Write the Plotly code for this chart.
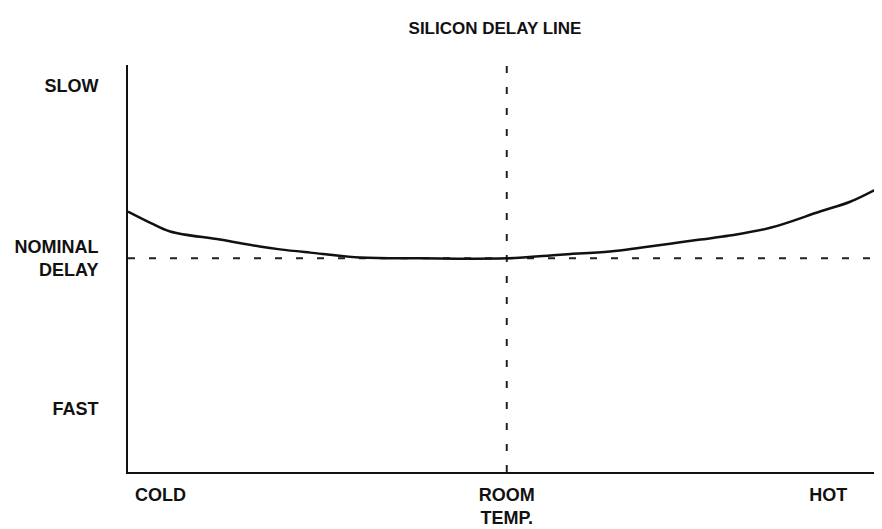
import plotly.graph_objects as go

# Data (normalized units: temperature 0-100, delay 0-100)
temp = [0, 2.9, 5.6, 12.2, 17.5, 20.2, 24.2, 30.8, 38.8, 50.3, 57.4, 64.0, 68.0, 72.0, 76.0, 79.9, 85.3, 91.9, 95.9, 100]
delay = [64.0, 61.3, 59.1, 57.1, 55.4, 54.7, 53.9, 52.7, 52.5, 52.5, 53.4, 54.2, 55.1, 56.1, 57.1, 58.1, 60.0, 64.0, 66.4, 70.1]

nominal_delay = 52.5
room_temp = 50.3

x_tick_vals = [4.3, 50.3, 93]
x_tick_text = ["COLD", "ROOM<br>TEMP.", "HOT"]
y_tick_vals = [95, 52.5, 15.5]
y_tick_text = ["SLOW", "NOMINAL<br>DELAY", "FAST"]

FONT = "Liberation Sans, Arial, sans-serif"

fig = go.Figure()

# nominal delay dashed line
fig.add_trace(go.Scatter(
    x=[0, 100], y=[nominal_delay, nominal_delay], mode="lines",
    line=dict(color="#222222", width=2, dash="7px,14px"),
    showlegend=False, hoverinfo="skip"))

# room temperature dashed line
fig.add_trace(go.Scatter(
    x=[room_temp, room_temp], y=[0, 100], mode="lines",
    line=dict(color="#222222", width=2, dash="7px,14px"),
    showlegend=False, hoverinfo="skip"))

# delay curve
fig.add_trace(go.Scatter(
    x=temp, y=delay, mode="lines",
    line=dict(color="#111111", width=2.5, shape="spline", smoothing=1.0),
    showlegend=False))

# page body has an 8px default margin, so the figure is sized to fit the window
fig.update_layout(
    width=874, height=521,
    margin=dict(l=120, r=1, t=57, b=48),
    paper_bgcolor="white", plot_bgcolor="white",
    title=dict(text="SILICON DELAY LINE", x=487 / 874, xref="container", xanchor="center",
               y=1 - 20 / 521, yref="container", yanchor="middle",
               font=dict(family=FONT, size=17, color="#111111", weight="bold")),
    font=dict(family=FONT, color="#111111"),
)

fig.update_xaxes(
    range=[0, 100], showgrid=False, zeroline=False,
    showline=True, linecolor="#111111", linewidth=2,
    tickmode="array", tickvals=x_tick_vals, ticktext=x_tick_text,
    ticks="", ticklabelstandoff=5,
    tickfont=dict(family=FONT, size=18, color="#111111", weight="bold"),
)
fig.update_yaxes(
    range=[0, 100], showgrid=False, zeroline=False,
    showline=True, linecolor="#111111", linewidth=2,
    tickmode="array", tickvals=y_tick_vals, ticktext=y_tick_text,
    ticks="", ticklabelstandoff=24,
    tickfont=dict(family=FONT, size=18, color="#111111", weight="bold"),
)

fig.write_html("out.html")
